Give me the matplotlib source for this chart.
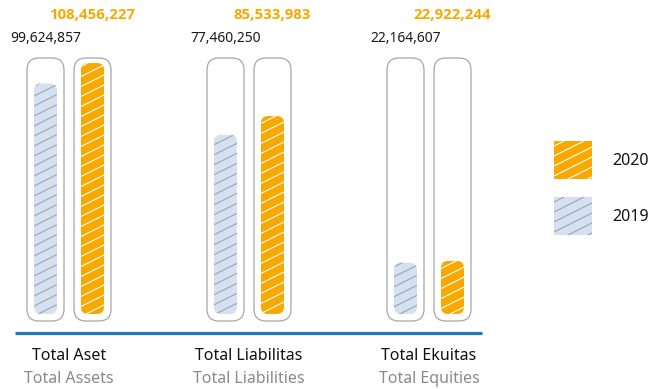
import numpy as np
import matplotlib.pyplot as plt
from matplotlib.patches import FancyBboxPatch
from matplotlib.collections import LineCollection

plt.rcParams['font.family'] = ['Noto Sans', 'DejaVu Sans']

# financial position, in thousands
categories = ['Total Aset', 'Total Liabilitas', 'Total Ekuitas']
categories_en = ['Total Assets', 'Total Liabilities', 'Total Equities']
years = ['2019', '2020']
values_2019 = [99624857, 77460250, 22164607]
values_2020 = [108456227, 85533983, 22922244]

ORANGE = '#f9a800'
LIGHT = '#d3e1f2'
W, H = 654, 389

fig = plt.figure(figsize=(W / 100, H / 100), dpi=100)
ax = fig.add_axes([0, 0, 1, 1])
ax.axis('off')

# x runs in pixels, y in value units; 251 px for the tallest bar
base_px = 314
per_px = max(values_2020) / 251
ax.set_xlim(0, W)
ax.set_ylim(-(H - base_px) * per_px, base_px * per_px)


def px2y(py):
    return (base_px - py) * per_px


def hatch_lines(patch, x0, x1, y0, y1, color):
    # slanted lines clipped to the patch
    slope = 0.5 * per_px
    step = 10 * per_px
    span = y1 - y0 + slope * (x1 - x0)
    segs = []
    for k in np.arange(-span, span + step, step):
        b = y0 + k
        segs.append([(x0, b), (x1, b + slope * (x1 - x0))])
    lc = LineCollection(segs, colors=color, linewidths=0.8, zorder=4)
    ax.add_collection(lc)
    lc.set_clip_path(patch)


def rounded(x, y, w, h, r, **kw):
    p = FancyBboxPatch((x, y), w, h,
                       boxstyle='round,pad=0,rounding_size=%g' % r,
                       mutation_aspect=per_px, **kw)
    ax.add_patch(p)
    return p


centers = [69, 249, 429]
box_w, bar_w = 37, 23
box_top, box_bot = px2y(58), px2y(321)

for i, c in enumerate(centers):
    for j, (vals, face, hc) in enumerate([(values_2019, LIGHT, '#a3a3a3'),
                                          (values_2020, ORANGE, 'white')]):
        xc = c + (j - 0.5) * 47
        rounded(xc - box_w / 2, box_bot, box_w, box_top - box_bot, 12,
                facecolor='white', edgecolor='#a6a6a6', linewidth=0.9, zorder=2)
        v = vals[i]
        bar = rounded(xc - bar_w / 2, 0, bar_w, v, 7,
                      facecolor=face, edgecolor='none', zorder=3)
        hatch_lines(bar, xc - bar_w / 2, xc + bar_w / 2, 0, v, hc)
        if j == 0:
            ax.text(xc, px2y(38), f'{v:,}', ha='center', va='center',
                    fontsize=10, color='#1a1a1a')
        else:
            ax.text(xc, px2y(15), f'{v:,}', ha='center', va='center',
                    fontsize=10.8, fontweight='bold', color=ORANGE,
                    family=['Open Sans', 'Lato', 'DejaVu Sans'])
    ax.text(c, px2y(356), categories[i], ha='center', va='center',
            fontsize=11.5, color='#111111')
    ax.text(c, px2y(379), categories_en[i], ha='center', va='center',
            fontsize=11.5, color='#8a8a8a')

# baseline rule
ax.plot([15, 482], [px2y(333), px2y(333)], color='#1f78c1', lw=2.3,
        solid_capstyle='butt', zorder=1)

# legend squares
for yr, face, hc, top in [(years[1], ORANGE, 'white', 141),
                          (years[0], LIGHT, '#a3a3a3', 197)]:
    sq = rounded(554, px2y(top + 38), 38, 38 * per_px, 0,
                 facecolor=face, edgecolor='none', zorder=3)
    hatch_lines(sq, 554, 592, px2y(top + 38), px2y(top), hc)
    ax.text(612, px2y(top + 20), yr, ha='left', va='center',
            fontsize=11.5, color='#111111')

fig.savefig('out.png', dpi=100)
